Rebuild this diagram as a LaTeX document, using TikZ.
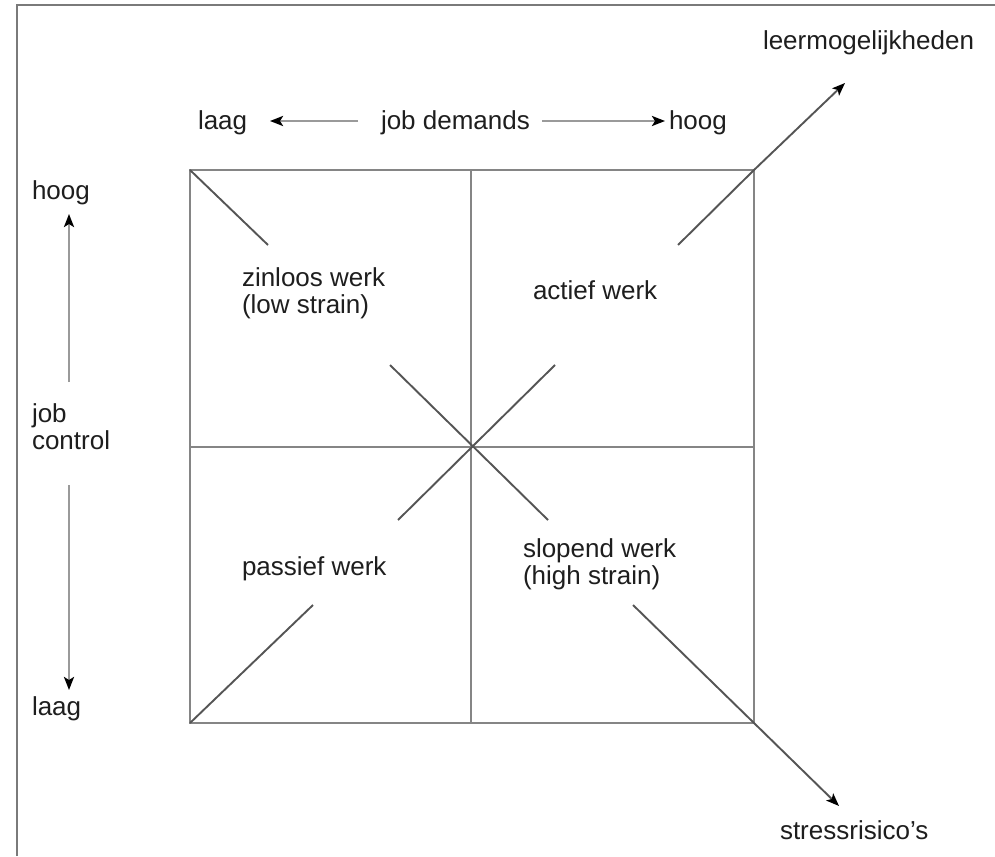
\documentclass[tikz,border=0pt]{standalone}
\usepackage{fontspec}
\setmainfont{Liberation Sans}
\usetikzlibrary{arrows.meta}
\definecolor{framegray}{HTML}{7A7A7A}
\definecolor{gridgray}{HTML}{858585}
\definecolor{diaggray}{HTML}{555555}
\definecolor{axisgray}{HTML}{9A9A9A}
\definecolor{inkgray}{HTML}{1E1E1E}
\begin{document}
\begin{tikzpicture}[x=1pt,y=-1pt,
  lbl/.style={inner sep=0pt,outer sep=0pt,text=inkgray,
    font=\fontsize{26}{27}\selectfont,align=left},
  gridline/.style={draw=gridgray,line width=2.4pt},
  diagline/.style={draw=diaggray,line width=1.9pt},
  tipshape/.style={-{Stealth[length=13pt,width=10pt,inset=3pt,color=black]}},
  axisarrow/.style={draw=axisgray,line width=2.8pt,tipshape},
  riskarrow/.style={draw=diaggray,line width=1.9pt,tipshape}]
\useasboundingbox (0,0) rectangle (995,856);
\fill[white] (0,0) rectangle (995,856);

% outer frame (top and left edges)
\coordinate (fTL) at (16.5,5);
\draw[framegray,line width=2pt] (16.5,856) -- (fTL) -- (995,5);

% square corners and mid points
\coordinate (TL) at (190,170);
\coordinate (TR) at (754,170);
\coordinate (BL) at (190,723);
\coordinate (BR) at (754,723);
\coordinate (C) at (471,447);
\coordinate (Tm) at (471,170);
\coordinate (Bm) at (471,723);
\coordinate (Lm) at (190,447);
\coordinate (Rm) at (754,447);

\draw[gridline] (TL) rectangle (BR);
\draw[gridline] (Tm) -- (Bm);
\draw[gridline] (Lm) -- (Rm);

% diagonal segments
\coordinate (dTL) at (268,245);
\coordinate (dBL) at (313,605);
\coordinate (xNW) at (390,365);
\coordinate (xNE) at (555,365);
\coordinate (xSW) at (398,520);
\coordinate (xSE) at (548,520);
\coordinate (dTR) at (678,245);
\coordinate (dBR) at (633,605);
\draw[diagline] (TL) -- (dTL);
\draw[diagline] (BL) -- (dBL);
\draw[diagline] (xNW) -- (xSE);
\draw[diagline] (xNE) -- (xSW);

% corner arrows and their labels
\node[lbl,anchor=base west] (leer) at (763,50) {leermogelijkheden};
\node[lbl,anchor=base west] (stress) at (780,839) {stressrisico's};
\coordinate (tipTR) at (845,83);
\coordinate (tipBR) at (839,806);
\draw[riskarrow] (dTR) -- (TR) -- (tipTR);
\draw[riskarrow] (dBR) -- (BR) -- (tipBR);

% job demands axis
\node[lbl,anchor=base west] (dlow) at (198,129.5) {laag};
\node[lbl,anchor=base west] (dem) at (381,129.5) {job demands};
\node[lbl,anchor=base west] (dhigh) at (669,129.5) {hoog};
\coordinate (dL1) at (358,121);
\coordinate (dL2) at (270,121);
\coordinate (dR1) at (542,121);
\coordinate (dR2) at (665,121);
\draw[axisarrow] (dL1) -- (dL2);
\draw[axisarrow] (dR1) -- (dR2);

% job control axis (base of a two-line label is its last line)
\node[lbl,anchor=base west] (chigh) at (32,199) {hoog};
\node[lbl,anchor=base west] (ctrl) at (32,449.5) {job\\control};
\node[lbl,anchor=base west] (clow) at (32,715) {laag};
\coordinate (cU1) at (69,382);
\coordinate (cU2) at (69,214);
\coordinate (cD1) at (69,485);
\coordinate (cD2) at (69,690);
\draw[axisarrow] (cU1) -- (cU2);
\draw[axisarrow] (cD1) -- (cD2);

% quadrant labels
\node[lbl,anchor=base west] (q1) at (242,313.5) {zinloos werk\\(low strain)};
\node[lbl,anchor=base west] (q2) at (533,299.5) {actief werk};
\node[lbl,anchor=base west] (q3) at (242,575.5) {passief werk};
\node[lbl,anchor=base west] (q4) at (523,584.5) {slopend werk\\(high strain)};
\end{tikzpicture}
\end{document}
